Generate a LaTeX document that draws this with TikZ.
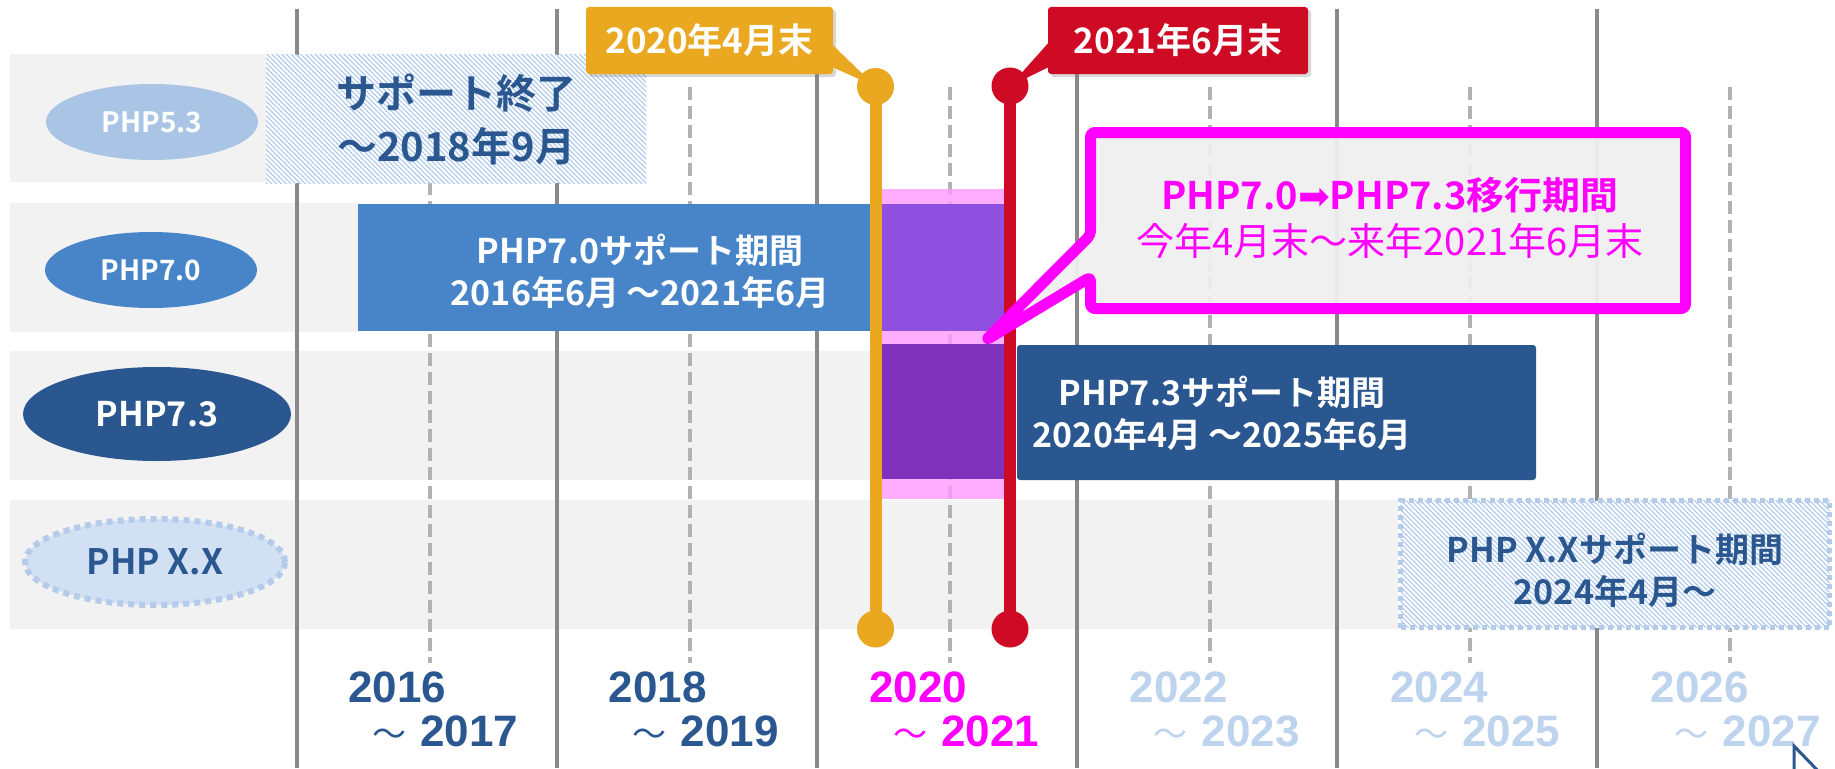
\documentclass[tikz,border=0pt]{standalone}
\usepackage{fontspec}
\setmainfont{Noto Sans CJK JP}[BoldFont={Noto Sans CJK JP Bold}]
\newfontfamily\yrfont{Liberation Sans}
\newfontfamily\symfont{DejaVu Sans}
\usetikzlibrary{positioning,shapes.geometric,patterns.meta,shadows,calc}
\definecolor{mygray}{RGB}{242,242,242}
\definecolor{mygrid}{RGB}{137,137,137}
\definecolor{mydash}{RGB}{178,178,178}
\definecolor{mydkblue}{RGB}{42,87,144}
\definecolor{mymidblue}{RGB}{72,132,200}
\definecolor{mylightblue}{RGB}{169,196,228}
\definecolor{mypaleblue}{RGB}{210,224,243}
\definecolor{mydotblue}{RGB}{180,204,234}
\definecolor{myhatch}{RGB}{172,200,236}
\definecolor{myyearlt}{RGB}{189,211,238}
\definecolor{myorange}{RGB}{233,168,32}
\definecolor{myred}{RGB}{206,10,36}
\definecolor{mymagenta}{RGB}{255,0,255}
\definecolor{mypink}{RGB}{255,153,255}
\definecolor{mypurplei}{RGB}{144,80,223}
\definecolor{mypurpleii}{RGB}{127,51,188}

\begin{document}
\begin{tikzpicture}[x=1pt,y=-1pt,
bandb/.style={fill=mygray},
gridb/.style={draw=mygrid,line width=4.5pt},
dashb/.style={draw=mydash,line width=4.5pt,dash pattern=on 13pt off 6pt},
ellb/.style={
  ellipse,
  inner sep=0pt,
  minimum width=212pt,
  minimum height=76pt,
  text=white,
  font=\bfseries\fontsize{28}{28}\selectfont},
barb/.style={rectangle,inner sep=0pt},
txtb/.style={
  align=center,
  inner sep=0pt,
  text=white,
  font=\bfseries\fontsize{34}{42}\selectfont},
hatchb/.style={barb,preaction={fill=white},
  pattern={Lines[angle=-45,distance=3.4pt,line width=1.1pt]},
  pattern color=myhatch},
tagb/.style={
  rectangle,
  rounded corners=3pt,
  inner sep=0pt,
  minimum height=67pt,
  text=white,
  font=\bfseries\fontsize{35}{35}\selectfont,
  drop shadow={shadow xshift=3pt,shadow yshift=-3pt,opacity=.3}},
dotb/.style={circle,inner sep=0pt,minimum size=37pt},
pinb/.style={line width=12pt},
yearb/.style={anchor=base west,inner sep=0pt,
  font=\yrfont\bfseries\fontsize{44}{44}\selectfont},
callb/.style={
  draw=mymagenta,
  line width=11pt,
  fill=mygray,
  fill opacity=.92,
  rounded corners=4pt,
  line join=round,
  drop shadow={shadow xshift=4pt,shadow yshift=-4pt,opacity=.25}},
]
\fill[white] (0,0) rectangle (1835,768);
\useasboundingbox (0,0) rectangle (1835,768);

\fill[bandb] (10,54) rectangle (266,182);
\fill[bandb] (10,203) rectangle (358,332);
\fill[bandb] (10,351) rectangle (882,480);
\fill[bandb] (10,500) rectangle (1398,629);

\foreach \k in {0,...,5}{
  \draw[gridb] ({297+260*\k},9) -- ({297+260*\k},768);
  \draw[dashb] ({430+260*\k},87) -- ({430+260*\k},663);
}

\node[hatchb,minimum width=380pt,minimum height=128pt,align=center,text=mydkblue,
  font=\bfseries\fontsize{40}{53}\selectfont] (End53) at (456,119) {サポート終了\\～2018年9月};
\node[barb,fill=mymidblue,minimum width=513pt,minimum height=127pt] (Bar70) at (614.5,267.5) {};
\node[txtb] (Txt70) at (640,271) {PHP7.0サポート期間\\2016年6月 ～2021年6月};
\node[barb,fill=mydkblue,rounded corners=3pt,minimum width=519pt,minimum height=135pt] (Bar73) at (1276.5,412.5) {};
\node[txtb] (Txt73) at (1222,413.5) {PHP7.3サポート期間\\2020年4月 ～2025年6月};
\node[hatchb,draw=mydotblue,line width=5pt,dash pattern=on 5pt off 4pt,
  minimum width=429pt,minimum height=127pt] (BarXX) at (1615,564) {};
\node[txtb,text=mydkblue] (TxtXX) at (1615,570) {PHP X.Xサポート期間\\2024年4月～};

\fill[mypink,opacity=.8] (882,189) rectangle (1004,499);
\fill[mypurplei] (882,204) rectangle (1004,331);
\fill[mypurpleii] (882,344) rectangle (1004,479);

\node[dotb,fill=myorange] (Apr1) at (875.5,86.5) {};
\node[dotb,fill=myorange] (Apr2) at (875.5,629) {};
\draw[pinb,myorange] (Apr1.center) -- (Apr2.center);
\node[dotb,fill=myred] (Jun1) at (1010,86) {};
\node[dotb,fill=myred] (Jun2) at (1010,629) {};
\draw[pinb,myred] (Jun1.center) -- (Jun2.center);

\node[tagb,fill=myorange,minimum width=247pt] (TagApr) at (709.5,40.5) {2020年4月末};
\fill[myorange] ($(TagApr.east)+(0,5)$) -- (Apr1.center) -- ($(TagApr.east)+(0,27)$) -- cycle;
\node[tagb,fill=myred,minimum width=260pt] (TagJun) at (1178,40.5) {2021年6月末};
\fill[myred] ($(TagJun.west)+(0,3)$) -- (Jun1.center) -- ($(TagJun.west)+(0,27)$) -- cycle;

\coordinate (Cnw) at (1090.5,132.5);
\coordinate (Cse) at (1685.5,308.5);
\coordinate (Ctip) at (986,340);
\draw[callb] (Cnw) -- (Cnw -| Cse) -- (Cse) -- (Cse -| Cnw) -- (1090.5,277) -- (Ctip) -- (1090.5,235) -- cycle;
\node[align=center,text=mymagenta,inner sep=0pt,font=\fontsize{38}{46}\selectfont] (Move) at (1390,218)
  {{\bfseries PHP7.0{\symfont\mdseries ➡}PHP7.3移行期間}\\今年4月末～来年2021年6月末};

\node[ellb,fill=mylightblue] (P53) at (152,122) {PHP5.3};
\node[ellb,fill=mymidblue] (P70) at (151,270) {PHP7.0};
\node[ellb,fill=mydkblue,minimum width=268pt,minimum height=94pt,
  font=\bfseries\fontsize{34}{34}\selectfont] (P73) at (157,414) {PHP7.3};
\node[ellb,fill=mypaleblue,draw=mydotblue,line width=6pt,dash pattern=on 6pt off 5pt,
  minimum width=260pt,minimum height=86pt,text=mydkblue,
  font=\bfseries\fontsize{35}{35}\selectfont] (PXX) at (155,562) {PHP X.X};

\foreach \k/\a/\b/\c in {0/2016/2017/mydkblue,1/2018/2019/mydkblue,2/2020/2021/mymagenta,
  3/2022/2023/myyearlt,4/2024/2025/myyearlt,5/2026/2027/myyearlt}{
  \node[yearb,text=\c] (Y\a) at ({348+260.5*\k},702) {\a};
  \node[yearb,text=\c] (Y\b) at ({372+260.5*\k},746)
    {{\rmfamily\mdseries\fontsize{34}{34}\selectfont ～}\hspace{14pt}\b};
}

\draw[draw=mydkblue,fill=white,line width=3pt] (1794,746) -- (1794,775) -- (1822,775) -- cycle;
\end{tikzpicture}
\end{document}
